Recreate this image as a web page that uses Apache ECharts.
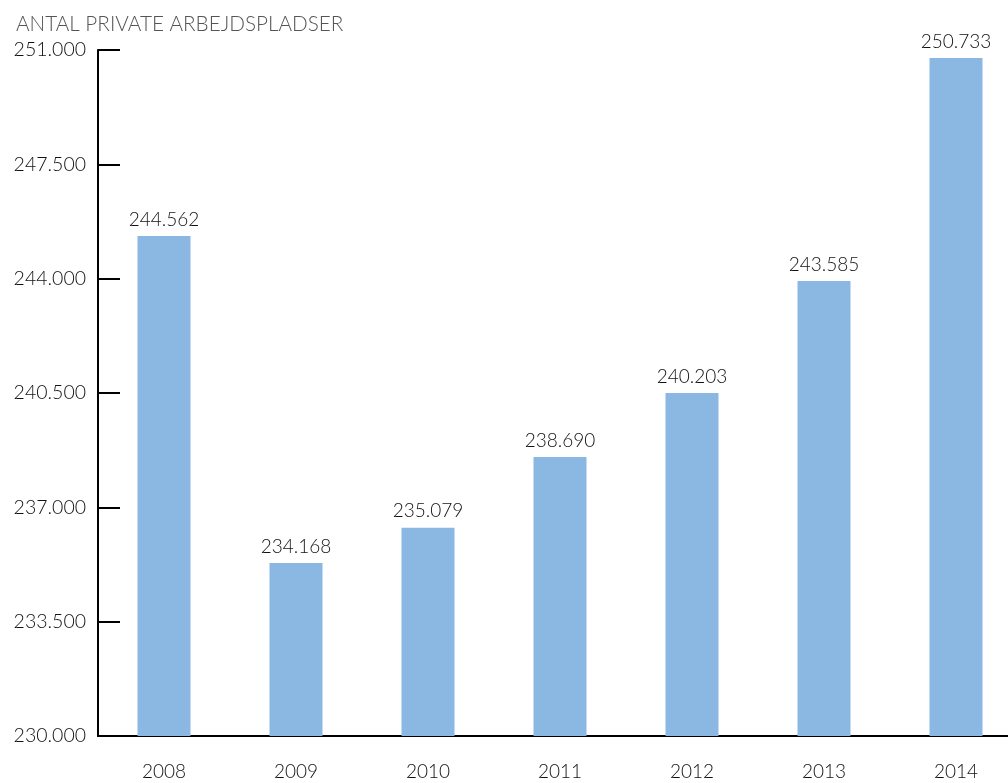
<!DOCTYPE html>
<html>
<head>
<meta charset="utf-8">
<script src="https://cdn.jsdelivr.net/npm/echarts@6/dist/echarts.min.js"></script>
<style>html,body{margin:0;padding:0;background:#fff;overflow:hidden}#c{width:1022px;height:783px}</style>
</head>
<body>
<div id="c"></div>
<script>
var categories = ['2008','2009','2010','2011','2012','2013','2014'];
// bar heights as drawn in the picture
var barValues = [245306, 235296, 236377, 238541, 240500, 243929, 250755];
// value labels as printed on the picture
var labelTexts = ['244.562','234.168','235.079','238.690','240.203','243.585','250.733'];
var yMin = 230000, yMax = 251000, yStep = 3500;
var titleText = 'ANTAL PRIVATE ARBEJDSPLADSER';

function fmt(v){ return String(v).replace(/\B(?=(\d{3})+(?!\d))/g,'.'); }

var chart = echarts.init(document.getElementById('c'));
chart.setOption({
  animation:false,
  textStyle:{fontFamily:'Lato'},
  title:{text:titleText,left:11,top:9,textStyle:{fontFamily:'Lato',fontSize:20.7,fontWeight:300,color:'#555'}},
  grid:{left:98,top:50,right:0,height:686,containLabel:false},
  xAxis:{type:'category',data:categories,
    axisLine:{lineStyle:{color:'#000',width:2}},
    axisTick:{inside:true,length:16,lineStyle:{color:'#000',width:2},alignWithLabel:false},
    axisLabel:{margin:26,fontSize:19,fontWeight:300,color:'#111',fontFamily:'Lato'}},
  yAxis:{type:'value',min:yMin,max:yMax,interval:yStep,
    axisLine:{show:true,lineStyle:{color:'#000',width:2}},
    axisTick:{show:true,inside:true,length:22,lineStyle:{color:'#000',width:2}},
    splitLine:{show:false},
    axisLabel:{margin:12,fontSize:19.5,fontWeight:300,color:'#111',fontFamily:'Lato',formatter:function(v){return fmt(v);}}},
  series:[{type:'bar',data:barValues,barWidth:53,
    itemStyle:{color:'#8AB8E3'},
    label:{show:true,position:'top',distance:7,fontSize:19,fontWeight:300,color:'#111',fontFamily:'Lato',
      formatter:function(p){return labelTexts[p.dataIndex];}}}]
});
</script>
</body>
</html>
